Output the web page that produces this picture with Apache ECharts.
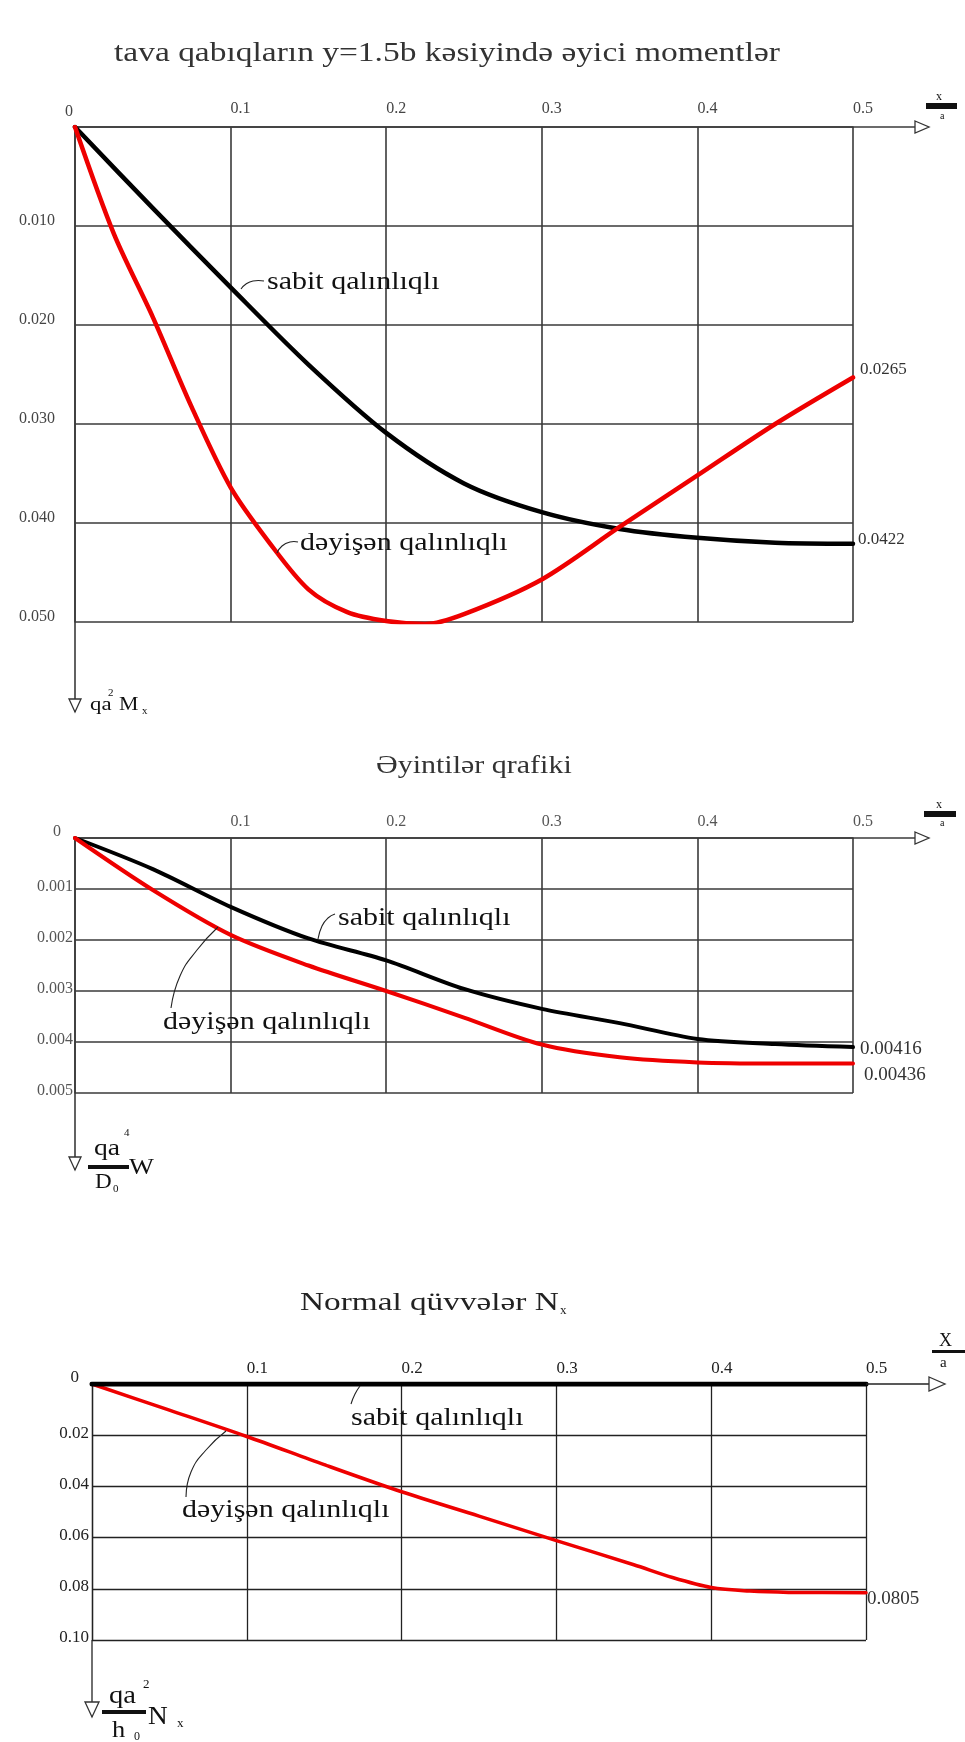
<!DOCTYPE html>
<html><head><meta charset="utf-8">
<script src="https://cdn.jsdelivr.net/npm/echarts/dist/echarts.min.js"></script>
<style>html,body{margin:0;padding:0;background:#fff}#c{width:965px;height:1742px}</style>
</head><body><div id="c"></div>
<script>
// ---------- DATA ----------
const xTickLabels = ['0', '0.1', '0.2', '0.3', '0.4', '0.5'];
const yTickLabelsM = ['0', '0.010', '0.020', '0.030', '0.040', '0.050'];
const yTickLabelsW = ['0', '0.001', '0.002', '0.003', '0.004', '0.005'];
const yTickLabelsN = ['0', '0.02', '0.04', '0.06', '0.08', '0.10'];

// Chart 1: bending moments Mx
const xMdeyisen = [0, 0.025, 0.05, 0.075, 0.1, 0.125, 0.15, 0.175, 0.2, 0.225, 0.25, 0.3, 0.35, 0.4, 0.45, 0.5];
const mDeyisen  = [0, 0.0108, 0.0192, 0.0283, 0.0364, 0.0420, 0.0467, 0.0490, 0.0499, 0.0502, 0.0492, 0.0457, 0.0404, 0.0352, 0.0300, 0.0253];
const xMsabit   = [0, 0.05, 0.1, 0.15, 0.2, 0.25, 0.3, 0.35, 0.4, 0.45, 0.5];
const mSabit    = [0, 0.0082, 0.0162, 0.0240, 0.0309, 0.0360, 0.0389, 0.0406, 0.0415, 0.0420, 0.0421];

// Chart 2: deflections W
const xW       = [0, 0.05, 0.1, 0.15, 0.2, 0.25, 0.3, 0.35, 0.4, 0.45, 0.5];
const wSabit   = [0, 0.00061, 0.00135, 0.00197, 0.00240, 0.00296, 0.00335, 0.00363, 0.00394, 0.00404, 0.00410];
const wDeyisen = [0, 0.00102, 0.00190, 0.00250, 0.00300, 0.00352, 0.00405, 0.00430, 0.00440, 0.00442, 0.00442];

// Chart 3: normal forces Nx
const xNdeyisen = [0, 0.05, 0.1, 0.15, 0.2, 0.25, 0.3, 0.35, 0.375, 0.4, 0.425, 0.45, 0.5];
const nDeyisen  = [0, 0.0102, 0.0205, 0.0315, 0.0421, 0.0516, 0.0612, 0.0706, 0.0756, 0.0795, 0.0809, 0.0814, 0.0815];
const xNsabit   = [0, 0.5];
const nSabit    = [0, 0];

// end value labels
const endM = ['0.0265', '0.0422'];
const endW = ['0.00416', '0.00436'];
const endN = ['0.0805'];

// ---------- LAYOUT / STYLE ----------
const SERIF = '"Liberation Serif","Times New Roman",serif';
const GRID = [
  {left: 75, top: 127, width: 778, height: 495},
  {left: 75, top: 838, width: 778, height: 255},
  {left: 92, top: 1384, width: 774, height: 256}
];
const Y_MAX = [0.05, 0.005, 0.10];
const Y_INT = [0.01, 0.001, 0.02];
const Y_LABS = [yTickLabelsM, yTickLabelsW, yTickLabelsN];
const LCFG = [
  {ym: 2, padR: 18, lift: 10, zPadR: 0, zLift: 30, xm: 10, color: '#444', size: 16, grid: '#3a3a3a', gw: 1.6},
  {ym: 2, padR: 0, lift: 4, zPadR: 12, zLift: 12, xm: 8, color: '#555', size: 16, grid: '#3a3a3a', gw: 1.6},
  {ym: 3, padR: 0, lift: 4, zPadR: 10, zLift: 12, xm: 7, color: '#222', size: 17, grid: '#222', gw: 1.3}
];

const grids = GRID.map(g => Object.assign({containLabel: false, outerBoundsMode: 'none'}, g));
const xAxes = GRID.map((g, i) => ({
  gridIndex: i, type: 'value', position: 'top', min: 0, max: 0.5, interval: 0.1,
  axisLine: {show: true, onZero: false, lineStyle: {color: LCFG[i].grid, width: LCFG[i].gw}},
  axisTick: {show: false},
  splitLine: {show: true, lineStyle: {color: LCFG[i].grid, width: LCFG[i].gw}},
  axisLabel: {show: true, align: 'left', margin: LCFG[i].xm, color: LCFG[i].color,
    fontFamily: SERIF, fontSize: LCFG[i].size,
    formatter: (v, idx) => idx === 0 ? '' : xTickLabels[idx]}
}));
const yAxes = GRID.map((g, i) => ({
  gridIndex: i, type: 'value', inverse: true, min: 0, max: Y_MAX[i], interval: Y_INT[i],
  axisLine: {show: true, onZero: false, lineStyle: {color: LCFG[i].grid, width: LCFG[i].gw}},
  axisTick: {show: false},
  splitLine: {show: true, lineStyle: {color: LCFG[i].grid, width: LCFG[i].gw}},
  axisLabel: {show: true, margin: LCFG[i].ym,
    formatter: (v, idx) => idx === 0 ? '{z|0}' : '{a|' + Y_LABS[i][idx] + '}',
    rich: {
      a: {color: LCFG[i].color, fontFamily: SERIF, fontSize: LCFG[i].size, padding: [0, LCFG[i].padR, LCFG[i].lift, 0]},
      z: {color: LCFG[i].color, fontFamily: SERIF, fontSize: LCFG[i].size, padding: [0, LCFG[i].zPadR, LCFG[i].zLift, 0]}
    }}
}));

function pairs(xs, ys) { return xs.map((x, k) => [x, ys[k]]); }
function lineSeries(gi, xs, ys, color, width, endText, off, fs, z) {
  return {
    type: 'line', xAxisIndex: gi, yAxisIndex: gi, data: pairs(xs, ys),
    smooth: 0.3, showSymbol: false, symbol: 'none', silent: true, z: z,
    lineStyle: {color: color, width: width, cap: 'round', join: 'round'},
    endLabel: endText ? {show: true, formatter: endText, color: '#333', fontFamily: SERIF, fontSize: fs,
      distance: 5, offset: off} : {show: false},
    animation: false
  };
}
const RED = '#ee0000';
const series = [
  lineSeries(0, xMsabit, mSabit, '#000', 4.5, endM[1], [0, -4], 17, 3),
  lineSeries(0, xMdeyisen, mDeyisen, RED, 4.5, endM[0], [2, -8], 17, 4),
  lineSeries(1, xW, wSabit, '#000', 4, endW[0], [2, 2], 19, 3),
  lineSeries(1, xW, wDeyisen, RED, 4, endW[1], [6, 12], 19, 4),
  lineSeries(2, xNsabit, nSabit, '#000', 5, null, null, 18, 4),
  lineSeries(2, xNdeyisen, nDeyisen, RED, 3.5, endN[0], [-4, 6], 19, 3)
];

const chart = echarts.init(document.getElementById('c'), null, {renderer: 'canvas'});
chart.setOption({
  animation: false, backgroundColor: '#fff',
  grid: grids, xAxis: xAxes, yAxis: yAxes, series: series
});

// ---------- DECORATIONS (text, axis extensions, arrows) ----------
function txt(x, y, text, size, opt) {
  opt = opt || {};
  return {type: 'text', x: x, y: y, scaleX: opt.sx || 1.2, z: 50,
    style: {text: text, fontFamily: SERIF, fontSize: size, fill: opt.color || '#111',
      textAlign: opt.align || 'left', textVerticalAlign: 'middle', align: opt.align || 'left', verticalAlign: 'middle'}};
}
function seg(x1, y1, x2, y2, w, c) {
  return {type: 'line', z: 40, shape: {x1: x1, y1: y1, x2: x2, y2: y2}, style: {stroke: c || '#333', lineWidth: w || 1.5}};
}
function tri(pts) {
  return {type: 'polygon', z: 45, shape: {points: pts}, style: {fill: '#fff', stroke: '#333', lineWidth: 1.3}};
}
function bar(x, y, w, h) {
  return {type: 'rect', z: 45, shape: {x: x, y: y, width: w, height: h}, style: {fill: '#111'}};
}
function leader(pts) {
  return {type: 'polyline', z: 45, shape: {points: pts, smooth: 0.5}, style: {stroke: '#222', lineWidth: 1.1, fill: null}};
}

const els = [];
GRID.forEach((g, i) => {
  const o = chart.convertToPixel({gridIndex: i}, [0, 0]);
  const e = chart.convertToPixel({gridIndex: i}, [0.5, Y_MAX[i]]);
  const big = i === 2;
  // x axis extension + open arrow
  const xEnd = e[0] + (big ? 65 : 64);
  els.push(seg(e[0], o[1], xEnd, o[1], LCFG[i].gw, LCFG[i].grid));
  const ah = big ? 7 : 6, al = big ? 16 : 14;
  els.push(tri([[xEnd - 2, o[1] - ah], [xEnd - 2 + al, o[1]], [xEnd - 2, o[1] + ah]]));
  // y axis extension + open arrow
  const yTip = e[1] + [90, 77, 77][i];
  els.push(seg(o[0], e[1], o[0], yTip, LCFG[i].gw, LCFG[i].grid));
  const bw = big ? 7 : 6, bl = big ? 15 : 13;
  els.push(tri([[o[0] - bw, yTip - bl], [o[0] + bw, yTip - bl], [o[0], yTip]]));
});

// x/a symbols
els.push(txt(936, 97, 'x', 12, {sx: 1}), bar(926, 103, 31, 6), txt(940, 116, 'a', 10, {sx: 1}));
els.push(txt(936, 805, 'x', 12, {sx: 1}), bar(924, 811, 32, 6), txt(940, 823, 'a', 10, {sx: 1}));
els.push(txt(939, 1341, 'X', 18, {sx: 1}), bar(932, 1350, 33, 3), txt(940, 1363, 'a', 15, {sx: 1}));

// titles
els.push(txt(114, 54, 'tava qabıqların y=1.5b kəsiyində əyici momentlər', 27, {color: '#333', sx: 1.24}));
els.push(txt(376, 766, 'Əyintilər qrafiki', 25, {color: '#333'}));
els.push(txt(300, 1303, 'Normal qüvvələr N', 26, {color: '#222', sx: 1.28}), txt(560, 1311, 'x', 13, {sx: 1, color: '#222'}));

// axis name labels
els.push(txt(90, 705, 'qa', 19), txt(108, 693, '2', 11, {sx: 1}), txt(119, 705, 'M', 19, {sx: 1.15}), txt(142, 711, 'x', 11, {sx: 1}));
els.push(txt(94, 1149, 'qa', 24, {sx: 1.15}), txt(124, 1133, '4', 11, {sx: 1}), bar(88, 1165, 41, 4),
         txt(95, 1182, 'D', 21, {sx: 1.1}), txt(113, 1189, '0', 11, {sx: 1}), txt(129, 1168, 'W', 24, {sx: 1.1}));
els.push(txt(109, 1696, 'qa', 26, {sx: 1.1}), txt(143, 1685, '2', 13, {sx: 1}), bar(102, 1710, 44, 4),
         txt(112, 1731, 'h', 24, {sx: 1.1}), txt(134, 1737, '0', 12, {sx: 1}), txt(148, 1717, 'N', 26, {sx: 1.05}), txt(177, 1724, 'x', 13, {sx: 1}));

// curve annotations
els.push(txt(267, 282, 'sabit qalınlıqlı', 25), leader([[241, 289], [246, 284], [253, 281], [264, 281]]));
els.push(txt(300, 543, 'dəyişən qalınlıqlı', 25), leader([[277, 553], [282, 546], [290, 542], [298, 542]]));
els.push(txt(338, 918, 'sabit qalınlıqlı', 25), leader([[318, 939], [322, 926], [328, 918], [335, 914]]));
els.push(txt(163, 1022, 'dəyişən qalınlıqlı', 25), leader([[218, 927], [197, 950], [180, 976], [171, 1008]]));
els.push(txt(351, 1418, 'sabit qalınlıqlı', 25), leader([[360, 1386], [355, 1394], [351, 1404]]));
els.push(txt(182, 1510, 'dəyişən qalınlıqlı', 25), leader([[226, 1431], [206, 1450], [191, 1472], [186, 1497]]));

chart.setOption({graphic: {elements: els}});
</script>
</body></html>
